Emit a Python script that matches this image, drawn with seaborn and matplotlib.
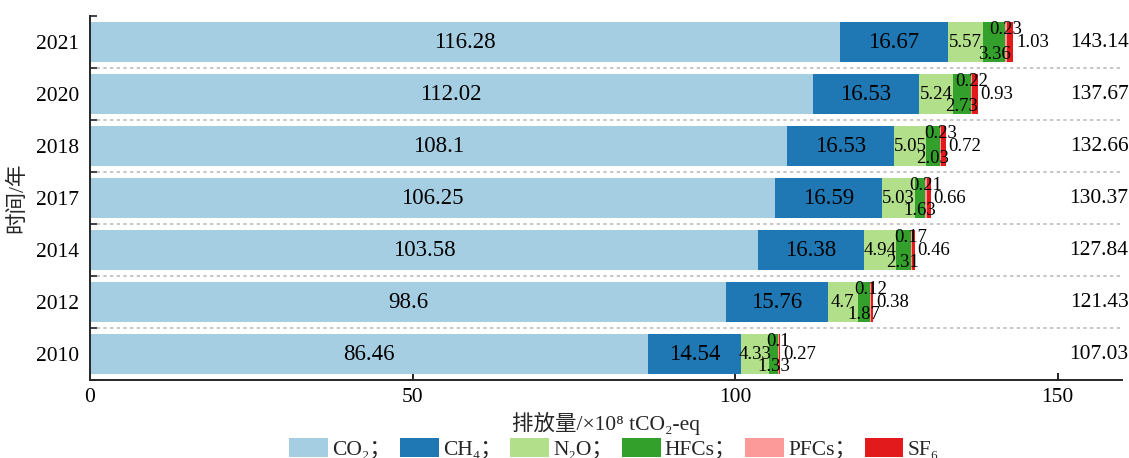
import numpy as np
import pandas as pd
import matplotlib
matplotlib.use("Agg")
import matplotlib.pyplot as plt
import seaborn as sns
from matplotlib.patches import Patch

# Emissions by gas, 10^8 t CO2-eq
years = ["2021", "2020", "2018", "2017", "2014", "2012", "2010"]
co2 = [116.28, 112.02, 108.1, 106.25, 103.58, 98.6, 86.46]
ch4 = [16.67, 16.53, 16.53, 16.59, 16.38, 15.76, 14.54]
n2o = [5.57, 5.24, 5.05, 5.03, 4.94, 4.7, 4.33]
hfcs = [3.36, 2.73, 2.03, 1.63, 2.31, 1.87, 1.33]
pfcs = [0.23, 0.22, 0.23, 0.21, 0.17, 0.12, 0.1]
sf6 = [1.03, 0.93, 0.72, 0.66, 0.46, 0.38, 0.27]
totals = [143.14, 137.67, 132.66, 130.37, 127.84, 121.43, 107.03]

gas_names = ["CO₂；", "CH₄；", "N₂O；", "HFCs；", "PFCs；", "SF₆"]
colors = ["#a6cee3", "#1f78b4", "#b2df8a", "#33a02c", "#fb9a99", "#e31a1c"]

sns.set_theme(style="ticks")
fam = ["Liberation Serif", "Noto Sans CJK SC", "DejaVu Sans"]
plt.rcParams["font.family"] = fam
plt.rcParams["axes.linewidth"] = 1.4

BIG = 16.5
SMALL = 13.5

series = np.array([co2, ch4, n2o, hfcs, pfcs, sf6])
cum = np.cumsum(series, axis=0)
left = cum - series

fig = plt.figure(figsize=(11.29, 4.58), dpi=100)
ax = fig.add_axes([90 / 1129, 1 - 380 / 458, 1032 / 1129, 364 / 458])

# stacked bars: draw cumulative totals from the outermost gas inward
for k in range(len(gas_names) - 1, -1, -1):
    df = pd.DataFrame({"year": years, "value": cum[k]})
    sns.barplot(data=df, x="value", y="year", order=years, orient="h",
                color=colors[k], saturation=1, width=0.77, ax=ax,
                linewidth=0, errorbar=None)

ax.set_xlim(0, 160)
ax.set_ylim(6.5, -0.5)

def fmt(v):
    return f"{v:g}"

for i in range(len(years)):
    yc = i
    # CO2 and CH4: centred, larger text
    for k in (0, 1):
        ax.text(left[k, i] + series[k, i] / 2, yc, fmt(series[k, i]),
                ha="center", va="center", fontsize=BIG, color="black")
    # N2O centred
    ax.text(left[2, i] + series[2, i] / 2, yc, fmt(series[2, i]),
            ha="center", va="center", fontsize=SMALL, color="black")
    # HFCs below centre
    ax.annotate(fmt(series[3, i]), (left[3, i] + series[3, i] / 2, yc),
                xytext=(0, -9), textcoords="offset points",
                ha="center", va="center", fontsize=SMALL, color="black")
    # PFCs above centre
    ax.annotate(fmt(series[4, i]), (left[4, i] + series[4, i] / 2, yc),
                xytext=(0, 9), textcoords="offset points",
                ha="center", va="center", fontsize=SMALL, color="black")
    # SF6 after the bar end
    ax.annotate(fmt(series[5, i]), (cum[5, i], yc),
                xytext=(2, 0), textcoords="offset points",
                ha="left", va="center", fontsize=SMALL, color="black")
    # totals on the right
    ax.text(161, yc, fmt(totals[i]), ha="right", va="center",
            fontsize=15.5, color="black", clip_on=False)

# dotted separators between years
for b in np.arange(0.5, len(years) - 1, 1.0):
    ax.axhline(b, color="#bdbdbd", linestyle=(0, (2, 2)), linewidth=1.2,
               zorder=0.5)

sns.despine(ax=ax, top=True, right=True)
ax.set_xticks([0, 50, 100, 150])
ax.tick_params(axis="x", direction="in", length=5, width=1.2,
               labelsize=15.5, colors="black", pad=6)
ax.tick_params(axis="y", which="major", length=0, labelsize=15.5,
               colors="black", pad=8)
ax.set_yticks(np.arange(-0.5, len(years), 1.0), minor=True)
ax.tick_params(axis="y", which="minor", direction="in", length=5, width=1.2)
for lab in ax.get_xticklabels() + ax.get_yticklabels():
    lab.set_family(fam)

ax.set_xlabel("排放量/×10⁸ tCO₂-eq", fontsize=15.5, labelpad=3)
ax.set_ylabel("时间/年", fontsize=15.5, labelpad=6)

handles = [Patch(facecolor=c, edgecolor="none") for c in colors]
fig.legend(handles, gas_names, loc="upper center",
           bbox_to_anchor=(0.544, 1 - 427 / 458), ncol=6, frameon=False,
           handlelength=1.8, handleheight=1.0,
           handletextpad=0.2, columnspacing=0.4, borderpad=0,
           prop={"family": fam, "size": 15.5})

fig.savefig("out.png", dpi=100)
